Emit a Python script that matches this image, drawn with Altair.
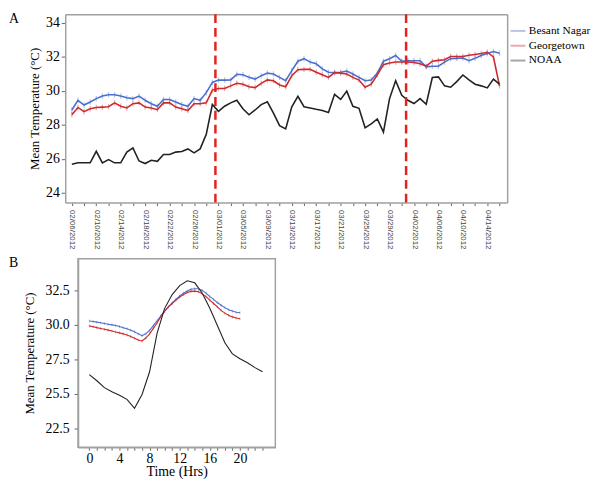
import datetime as dt
import altair as alt
import pandas as pd

SERIES = ["Besant Nagar", "Georgetown", "NOAA"]
COLORS = ["#4a6fcf", "#cc2a2e", "#222222"]

# ---------------- Panel A: daily means ----------------
START = dt.date(2012, 2, 6)
DATES = [(START + dt.timedelta(days=i)).isoformat() for i in range(71)]

BESANT_A = [28.88, 29.45, 29.17, 29.35, 29.55, 29.70, 29.78, 29.78, 29.70, 29.60,
            29.55, 29.70, 29.45, 29.25, 29.10, 29.50, 29.50, 29.35, 29.20, 29.10,
            29.55, 29.45, 29.90, 30.50, 30.64, 30.64, 30.65, 30.98, 30.95, 30.80,
            30.70, 30.90, 31.05, 31.00, 30.80, 30.60, 31.20, 31.75, 31.90, 31.70,
            31.60, 31.30, 31.10, 31.08, 31.10, 31.17, 31.00, 30.80, 30.60, 30.64,
            31.05, 31.75, 31.90, 32.09, 31.75, 31.78, 31.78, 31.78, 31.42, 31.45,
            31.46, 31.70, 31.90, 31.92, 31.94, 31.78, 31.92, 32.09, 32.20, 32.32,
            32.22]
GEORGE_A = [28.60, 29.03, 28.78, 28.95, 29.03, 29.05, 29.07, 29.30, 29.10, 29.00,
            29.25, 29.30, 29.05, 29.00, 28.90, 29.30, 29.30, 29.05, 28.95, 28.85,
            29.25, 29.25, 29.30, 30.05, 30.15, 30.15, 30.30, 30.45, 30.40, 30.25,
            30.20, 30.45, 30.65, 30.60, 30.35, 30.25, 30.90, 31.25, 31.27, 31.27,
            31.10, 30.95, 30.80, 31.08, 31.05, 31.00, 30.80, 30.64, 30.22, 30.40,
            30.95, 31.55, 31.65, 31.70, 31.70, 31.70, 31.68, 31.60, 31.46, 31.75,
            31.80, 31.84, 32.03, 32.03, 32.03, 32.10, 32.15, 32.20, 32.28, 32.00,
            30.30]
NOAA_A = [25.69, 25.77, 25.77, 25.77, 26.45, 25.77, 25.96, 25.77, 25.77, 26.40,
          26.65, 25.88, 25.73, 25.92, 25.86, 26.26, 26.26, 26.40, 26.44, 26.59,
          26.36, 26.59, 27.45, 29.20, 28.80, 29.10, 29.30, 29.45, 28.95, 28.60,
          28.88, 29.20, 29.36, 28.70, 27.96, 27.77, 29.07, 29.68, 29.07, 29.00,
          28.92, 28.85, 28.73, 29.80, 29.50, 29.99, 29.10, 28.98, 27.83, 28.06,
          28.35, 27.58, 29.55, 30.60, 29.74, 29.45, 29.26, 29.55, 29.22, 30.79,
          30.83, 30.30, 30.22, 30.55, 30.94, 30.65, 30.40, 30.30, 30.18, 30.70,
          30.40]
DASH_DATES = ["2012-02-29T12:00:00Z", "2012-03-31T17:00:00Z"]
Y_TICKS_A = [24, 26, 28, 30, 32, 34]
ERR_A = 0.16

# ---------------- Panel B: diurnal cycle ----------------
HOURS_HALF = [0, 0.5, 1, 1.5, 2, 2.5, 3, 3.5, 4, 4.5, 5, 5.5, 6, 6.5, 7, 7.5, 8, 8.5,
              9, 9.5, 10, 10.5, 11, 11.5, 12, 12.5, 13, 13.5, 14, 14.5, 15, 15.5,
              16, 16.5, 17, 17.5, 18, 18.5, 19, 19.5, 20]
BESANT_B = [30.28, 30.24, 30.20, 30.15, 30.10, 30.05, 30.00, 29.95, 29.88, 29.80,
            29.72, 29.62, 29.50, 29.35, 29.22, 29.35, 29.60, 29.95, 30.30, 30.65,
            31.00, 31.30, 31.60, 31.85, 32.10, 32.30, 32.45, 32.58, 32.62, 32.62,
            32.50, 32.30, 32.05, 31.85, 31.62, 31.42, 31.25, 31.10, 31.00, 30.92,
            30.88]
GEORGE_B = [29.93, 29.87, 29.80, 29.74, 29.68, 29.62, 29.55, 29.48, 29.42, 29.35,
            29.26, 29.15, 29.03, 28.90, 28.83, 29.05, 29.35, 29.75, 30.15, 30.60,
            31.00, 31.30, 31.55, 31.80, 32.02, 32.20, 32.35, 32.43, 32.45, 32.40,
            32.25, 32.05, 31.80, 31.55, 31.30, 31.05, 30.85, 30.70, 30.58, 30.50,
            30.44]
HOURS_FULL = list(range(24))
NOAA_B = [26.40, 25.95, 25.45, 25.15, 24.90, 24.60, 23.95, 24.95, 26.60, 29.40,
          31.20, 32.20, 32.85, 33.20, 33.05, 32.30, 31.20, 29.95, 28.70, 27.90,
          27.55, 27.25, 26.90, 26.60]
X_LABELS_B = [0, 4, 8, 12, 16, 20]
Y_TICKS_B = [22.5, 25.0, 27.5, 30.0, 32.5]
ERR_B = 0.1

SERIF = "Liberation Serif"
FRAME = "#a0a0a0"

# ---------------- build panel A ----------------
# Panel A's group starts where panel B's frame starts (the column aligns
# plot origins); its x range reaches 13px further left so that its frame
# starts 13px left of panel B's, as in the original figure.
A_SHIFT = 13
A_W = 435
A_H = 191

dfA = pd.DataFrame({
    "date": DATES * 3,
    "series": [s for s in SERIES for _ in DATES],
    "value": BESANT_A + GEORGE_A + NOAA_A,
})
t0 = int(dt.datetime(2012, 2, 6, tzinfo=dt.timezone.utc).timestamp() * 1000)
tick_dates = [alt.DateTime(year=d.year, month=d.month, date=d.day, utc=True)
              for d in (START + dt.timedelta(days=2 * i) for i in range(36))]

colorA = alt.Color(
    "series:N",
    scale=alt.Scale(domain=SERIES, range=COLORS),
    legend=alt.Legend(
        title=None, orient="none", legendX=A_W + 2, legendY=8,
        labelFont=SERIF, labelFontSize=11.5, labelColor="black",
        symbolType="stroke", symbolStrokeWidth=2, symbolSize=230,
        rowPadding=-1, labelOffset=2, padding=0,
    ),
)
scaleXA = alt.Scale(type="utc", domain=[
    alt.DateTime(year=2012, month=2, date=4, hours=22, utc=True),
    alt.DateTime(year=2012, month=4, date=17, hours=6, utc=True)],
    range=[-A_SHIFT, A_W])
axisXA = alt.Axis(
    title=None, values=tick_dates, labelAngle=90, labelFont="Liberation Sans",
    labelFontSize=8, labelColor="#444", tickSize=3, labelPadding=4,
    labelOverlap=False,
    labelExpr=f"(round((datum.value - {t0}) / 86400000) % 4 == 0) ? utcFormat(datum.value, '%m/%d/%Y') : ''",
)
scaleYA = alt.Scale(domain=[23.43, 34.52], nice=False, zero=False)
axisYA = alt.Axis(values=Y_TICKS_A, title="Mean Temperature (°C)", labelFont=SERIF,
                  labelFontSize=14, titleFont=SERIF, titleFontSize=13, labelOverlap=False,
                  titleFontWeight="normal", tickSize=4, labelPadding=2, titlePadding=4,
                  offset=A_SHIFT)

baseA = alt.Chart(dfA)
linesA = baseA.mark_line(strokeWidth=1.6).encode(
    x=alt.X("date:T", scale=scaleXA, axis=axisXA),
    y=alt.Y("value:Q", scale=scaleYA, axis=axisYA), color=colorA)
errA = baseA.transform_filter("datum.series != 'NOAA'").transform_calculate(
    lo=f"datum.value - {ERR_A}", hi=f"datum.value + {ERR_A}"
).mark_rule(strokeWidth=1.2, opacity=0.4).encode(
    x=alt.X("date:T", scale=scaleXA, axis=None),
    y=alt.Y("lo:Q", scale=scaleYA, axis=None), y2="hi:Q", color=colorA)
dashA = alt.Chart(pd.DataFrame({"date": DASH_DATES})).mark_rule(
    color="#e3221c", strokeDash=[9, 5], strokeWidth=2.5).encode(
    x=alt.X("date:T", scale=scaleXA, axis=None))
letterA = alt.Chart(pd.DataFrame({"t": ["A"]})).mark_text(
    text="A", align="left", baseline="middle", font=SERIF, fontSize=14).encode(
    x=alt.value(-70), y=alt.value(5))
# frame: top and right edges drawn as extra label-less axes on the same scales
frameTop = baseA.mark_rule(opacity=0).encode(
    x=alt.X("date:T", scale=scaleXA,
            axis=alt.Axis(orient="top", labels=False, ticks=False, title=None)))
frameRight = baseA.mark_rule(opacity=0).encode(
    y=alt.Y("value:Q", scale=scaleYA,
            axis=alt.Axis(orient="right", labels=False, ticks=False, title=None)))

panelA = alt.layer(linesA, errA, dashA, letterA, frameTop, frameRight).resolve_axis(
    x="independent", y="independent"
).properties(width=A_W, height=A_H, view=alt.ViewBackground(stroke="transparent"))

# ---------------- build panel B ----------------
dfB = pd.DataFrame({
    "hour": HOURS_HALF + HOURS_HALF + HOURS_FULL,
    "series": [SERIES[0]] * len(HOURS_HALF) + [SERIES[1]] * len(HOURS_HALF)
              + [SERIES[2]] * len(HOURS_FULL),
    "value": BESANT_B + GEORGE_B + NOAA_B,
})
colorB = alt.Color("series:N", scale=alt.Scale(domain=SERIES, range=COLORS), legend=None)
xB = alt.X(
    "hour:Q",
    scale=alt.Scale(domain=[-1.5, 24.7], nice=False, zero=False),
    axis=alt.Axis(values=HOURS_FULL, title="Time (Hrs)", labelFont=SERIF, labelFontSize=14,
                  titleFont=SERIF, titleFontSize=14, titleFontWeight="normal",
                  tickSize=3, labelPadding=1, titlePadding=0, labelOverlap=False,
                  labelExpr="(datum.value % 4 == 0 && datum.value <= 20) ? datum.label : ''"),
)
scaleYB = alt.Scale(domain=[21.13, 34.79], nice=False, zero=False)
axisYB = alt.Axis(values=Y_TICKS_B, format=".1f", title="Mean Temperature (°C)",
                  labelExpr="datum.value == 25 ? '25.5' : datum.label", labelOverlap=False,
                  labelFont=SERIF, labelFontSize=14, titleFont=SERIF, titleFontSize=13,
                  titleFontWeight="normal", tickSize=4, labelPadding=5, titlePadding=9)
baseB = alt.Chart(dfB)
linesB = baseB.mark_line(strokeWidth=1.1).encode(
    x=xB, y=alt.Y("value:Q", scale=scaleYB, axis=axisYB), color=colorB)
errB = baseB.transform_filter("datum.series != 'NOAA'").transform_calculate(
    lo=f"datum.value - {ERR_B}", hi=f"datum.value + {ERR_B}"
).mark_rule(strokeWidth=1, opacity=0.5).encode(
    x=xB, y=alt.Y("lo:Q", scale=scaleYB, axis=axisYB), y2="hi:Q", color=colorB)
letterB = alt.Chart(pd.DataFrame({"t": ["B"]})).mark_text(
    text="B", align="left", baseline="middle", font=SERIF, fontSize=14).encode(
    x=alt.value(-70), y=alt.value(4))
panelB = alt.layer(linesB, errB, letterB).properties(width=200, height=191)

chart = alt.concat(panelA, panelB, columns=1, spacing=5).resolve_scale(
    color="independent"
).properties(
    padding={"left": 0, "top": 0, "right": 0, "bottom": 0}
).configure_view(stroke=FRAME, strokeWidth=1.5).configure_axis(
    grid=False, domainColor=FRAME, domainWidth=1.5, tickColor="#666", labelColor="black",
    titleColor="black")

chart.save("out.html", embed_options={"renderer": "svg", "actions": False})
